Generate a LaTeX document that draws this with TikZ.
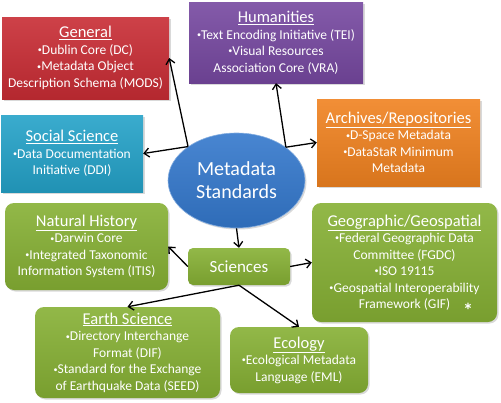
\documentclass[tikz,border=0pt]{standalone}
\usepackage{fontspec}
\setmainfont{Carlito}
\usetikzlibrary{arrows.meta,shapes.geometric,shadows}
\definecolor{genred}{RGB}{200,44,52}
\definecolor{humpurple}{RGB}{118,72,160}
\definecolor{soccyan}{RGB}{36,162,200}
\definecolor{arcorange}{RGB}{240,130,32}
\definecolor{stdblue}{RGB}{52,120,204}
\definecolor{scigreen}{RGB}{134,176,52}
\newcommand{\ttl}[1]{{\fontsize{16.5}{19}\selectfont\underline{#1}}}
\newcommand{\bul}{\raisebox{.25ex}{\scalebox{.6}{•}}}
\begin{document}
\begin{tikzpicture}[x=1pt,y=-1pt,
	box/.style={text=white,align=center,inner sep=0pt,
		font=\fontsize{13.5}{16.5}\selectfont,
		drop shadow={opacity=.3,shadow xshift=1.5pt,shadow yshift=-1.5pt}},
	flat box/.style={box,top color=#1!90!white,bottom color=#1!90!black},
	sci box/.style={box,rounded corners=9pt,top color=scigreen!90!white,bottom color=scigreen!90!black},
	arr/.style={-{Straight Barb[length=5pt,width=9pt]},line width=1.3pt}]
\useasboundingbox (0,0) rectangle (501,402);
% top row
\node[flat box=genred,minimum width=167pt,minimum height=82pt](General) at (85.5,58)
	{\ttl{General}\\\bul Dublin Core (DC)\\\bul Metadata Object\\Description Schema (MODS)};
\node[flat box=humpurple,minimum width=174pt,minimum height=81pt](Humanities) at (276,42.5)
	{\ttl{Humanities}\\\bul Text Encoding Initiative (TEI)\\\bul Visual Resources\\Association Core (VRA)};
\node[flat box=soccyan,minimum width=142pt,minimum height=77pt](Social) at (72,153.5)
	{\ttl{Social Science}\\\bul Data Documentation\\Initiative (DDI)};
\node[flat box=arcorange,minimum width=163pt,minimum height=87pt](Archives) at (398.5,142.5)
	{\ttl{Archives/Repositories}\\\bul D-Space Metadata\\\bul DataStaR Minimum\\Metadata};
% centre
\node[ellipse,box,draw=stdblue!60!white,line width=.6pt,top color=stdblue!90!white,bottom color=stdblue!90!black,
	minimum width=137pt,minimum height=95pt,font=\fontsize{20}{23}\selectfont](Std) at (236.5,180.5)
	{Metadata\\Standards};
\node[sci box,rounded corners=5pt,minimum width=102pt,minimum height=37pt,font=\fontsize{17}{19}\selectfont](Sci) at (239,266.5)
	{Sciences};
% sciences
\node[sci box,minimum width=163pt,minimum height=87pt](NatHist) at (86.5,246.5)
	{\ttl{Natural History}\\\bul Darwin Core\\\bul Integrated Taxonomic\\Information System (ITIS)};
\node[sci box,minimum width=185pt,minimum height=119pt](Geo) at (404.5,262.5)
	{\ttl{Geographic/Geospatial}\\\bul Federal Geographic Data\\Committee (FGDC)\\\bul ISO 19115\\\bul Geospatial Interoperability\\Framework (GIF)};
\node[sci box,minimum width=185pt,minimum height=91pt](Earth) at (127.5,352.5)
	{\ttl{Earth Science}\\\bul Directory Interchange\\Format (DIF)\\\bul Standard for the Exchange\\of Earthquake Data (SEED)};
\node[sci box,minimum width=138pt,minimum height=66pt](Ecology) at (299,360)
	{\ttl{Ecology}\\\bul Ecological Metadata\\Language (EML)};
\node[text=white,font=\bfseries\fontsize{20}{20}\selectfont,inner sep=0pt](ast) at (468,310) {*};
% connectors
\draw[arr] (Std.145) -- (General.east);
\draw[arr] (Std.145) -- (Social.east);
\draw[arr] (Std.34) -- (Humanities.south);
\draw[arr] (Std.34) -- (Archives.west);
\draw[arr] (Std.south) -- (Sci.north);
\draw[arr] (Sci.west) -- (NatHist.east);
\draw[arr] (Sci.east) -- (Geo.west);
\draw[arr] (Sci.south) -- (Earth.north);
\draw[arr] (Sci.south) -- (Ecology.north);
\end{tikzpicture}
\end{document}
